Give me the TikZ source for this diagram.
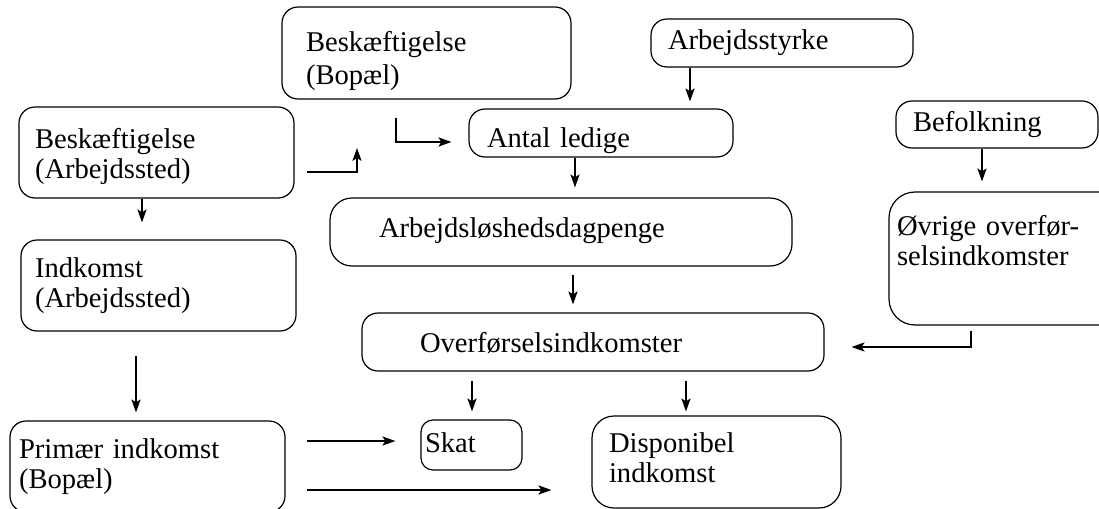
\documentclass[tikz,border=0pt]{standalone}
\usepackage{fontspec}
\setmainfont{Liberation Serif}
\usetikzlibrary{arrows.meta}
\tikzset{
  rbox/.style n args={3}{draw, rounded corners=8pt, inner sep=0pt, align=left,
    minimum width=#1, minimum height=#2, text width=#3},
  arr/.style={-{Stealth[length=6.5pt,width=4.6pt,inset=1.5pt]}},
}
\begin{document}
\begin{tikzpicture}[x=0.5pt, y=-0.5pt, line width=0.6pt, font=\fontsize{14.3}{15}\selectfont]
\useasboundingbox (0,0) rectangle (1099,509);
\clip (0,0) rectangle (1099,509);

% boxes
\node[rbox={144.5pt}{46pt}{120.5pt}, text height=18pt] (bopael) at (426.5,53) {Beskæftigelse\\[1.5pt](Bopæl)};
\node[rbox={131pt}{24pt}{114pt}, text depth=3.8pt] (styrke) at (782,43) {Arbejdsstyrke};
\node[rbox={137.5pt}{45.5pt}{121.5pt}, text depth=14pt] (beskarb) at (156.5,152.5) {Beskæftigelse\\(Arbejdssted)};
\node[rbox={132pt}{24pt}{114pt}, text height=17.1pt] (ledige) at (601,133) {Antal ledige};
\node[rbox={101pt}{23.5pt}{84pt}, text depth=3.3pt] (befolk) at (997,124.5) {Befolkning};
\node[rbox={231pt}{34pt}{182pt}, text depth=4.8pt, rounded corners=11pt] (dagpenge) at (561,232) {Arbejdsløshedsdagpenge};
\node[rbox={125pt}{66.5pt}{117pt}, text depth=33.5pt, rounded corners=13pt] (ovrige) at (1014,258.5) {Øvrige overfør-\\selsindkomster};
\node[rbox={137.5pt}{45.5pt}{123.5pt}] (indkomst) at (158.5,285.5) {Indkomst\\(Arbejdssted)};
\node[rbox={231pt}{29pt}{173pt}, text height=10.5pt, text depth=0pt] (overf) at (593,342) {Overførselsindkomster};
\node[rbox={137.5pt}{45.5pt}{128.5pt}] (primaer) at (147.5,466.5) {Primær indkomst\\(Bopæl)};
\node[rbox={50.5pt}{25pt}{46.5pt}, text depth=2.8pt, rounded corners=6pt] (skat) at (471.5,445) {Skat};
\node[rbox={124.5pt}{46pt}{107.5pt}, text depth=19pt, rounded corners=11pt] (disp) at (716.5,462) {Disponibel\\indkomst};

% straight arrows: from / to / x / gap at start / gap at end
\foreach \u/\v/\x/\s/\e in {styrke/ledige/690/0pt/3.5pt, beskarb/indkomst/142/0pt/8.5pt,
    ledige/dagpenge/575/0pt/5pt, befolk/ovrige/982/0pt/5pt, dagpenge/overf/573/4pt/4pt,
    indkomst/primaer/136/12pt/4pt, overf/skat/472/4.5pt/4pt, overf/disp/686/4.5pt/2pt}{
  \draw[arr, shorten <=\s, shorten >=\e] (\u.south -| \x,0) -- (\v.north -| \x,0);
}

% elbows
\coordinate (upend) at (357,148);
\draw[arr, shorten <=9pt, shorten >=8.5pt] (bopael.south -| 396,0) |- (ledige.west |- 0,142);
\draw[arr, shorten <=6pt] (beskarb.east |- 0,172) -| (upend);
\draw[arr, shorten <=2.5pt, shorten >=13.5pt] (ovrige.south -| 971,0) |- (overf.east |- 0,347);

% into skat and disponibel
\draw[arr, shorten <=10.5pt, shorten >=12.5pt] (primaer.east |- 0,441) -- (skat.west |- 0,441);
\draw[arr, shorten <=10.5pt, shorten >=20pt] (primaer.east |- 0,490) -- (disp.west |- 0,490);
\end{tikzpicture}
\end{document}
